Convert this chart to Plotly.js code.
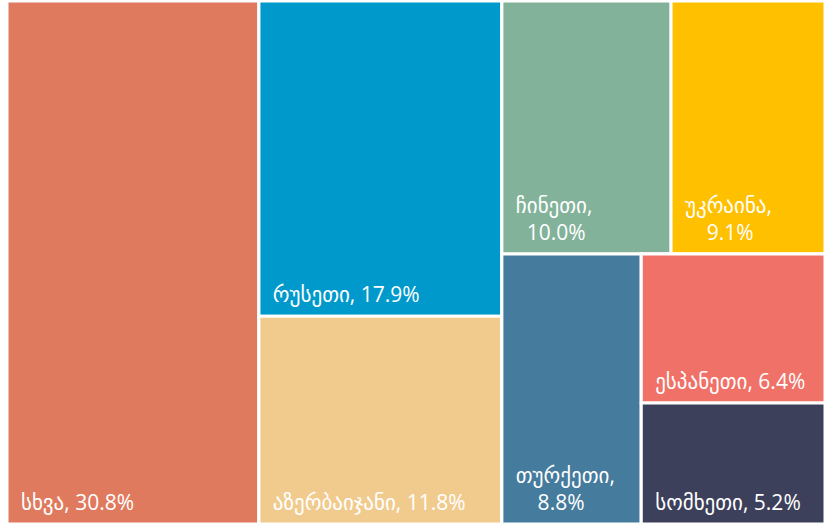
<!DOCTYPE html>
<html>
<head>
<meta charset="utf-8">
<script src="https://cdn.plot.ly/plotly-3.0.1.min.js"></script>
<style>html,body{margin:0;padding:0;background:#fff;}#chart{width:825px;height:526px;}</style>
</head>
<body>
<div id="chart"></div>
<script>
// Leaf data
const labels = ["სხვა", "რუსეთი", "აზერბაიჯანი", "ჩინეთი", "უკრაინა", "თურქეთი", "ესპანეთი", "სომხეთი"];
const values = [30.8, 17.9, 11.8, 10.0, 9.1, 8.8, 6.4, 5.2];
const colors = ["#DF7A5E", "#0099CC", "#F1CB8E", "#82B29A", "#FFC000", "#457B9D", "#F07167", "#3D405B"];
// Grouping used only to reproduce the reference's tile arrangement
const groupOf = ["", "g1", "g1", "g2a", "g2a", "g2b", "g2b2", "g2b2"];
const groupIds = ["g1", "g2", "g2a", "g2b", "g2b2"];
const groupParents = ["", "", "g2", "g2", "g2b"];
// labels whose value goes on a second, indented line
const wrapIndent = {"ჩინეთი": 4, "უკრაინა": 6, "თურქეთი": 6};

const NB = "\u00a0";
const texts = labels.map((l, i) => {
  const v = values[i].toFixed(1) + "%";
  return (l in wrapIndent) ? (NB + NB + l + ",<br>" + NB.repeat(wrapIndent[l]) + v) : (NB + NB + l + ", " + v);
});

// Order: root children in reference order (სხვა, g1, g2)
const ids = ["l0", "g1", "l1", "l2", "g2", "g2a", "l3", "l4", "g2b", "l5", "g2b2", "l6", "l7"];
const idx = {};
labels.forEach((l, i) => idx["l" + i] = i);
const isLeaf = id => id.startsWith("l");
const parentOf = id => isLeaf(id) ? groupOf[idx[id]] : groupParents[groupIds.indexOf(id)];

const trace = {
  type: "treemap",
  ids: ids,
  labels: ids.map(id => isLeaf(id) ? labels[idx[id]] : " "),
  parents: ids.map(parentOf),
  values: ids.map(id => isLeaf(id) ? values[idx[id]] : 0),
  text: ids.map(id => isLeaf(id) ? texts[idx[id]] : ""),
  textinfo: "text",
  textposition: "bottom left",
  textfont: {family: "Open Sans, DejaVu Sans, sans-serif", size: 21, color: "#ffffff"},
  sort: false,
  marker: {
    colors: ids.map(id => isLeaf(id) ? colors[idx[id]] : "#ffffff"),
    line: {color: "#ffffff", width: 3},
    pad: {t: 0, l: 0, r: 0, b: 0}
  },
  tiling: {packing: "slice-dice", pad: 0},
  pathbar: {visible: false},
  branchvalues: "remainder",
  hoverinfo: "none"
};

Plotly.newPlot("chart", [trace], {
  width: 825, height: 526,
  margin: {l: 7, r: 0, t: 1, b: 2},
  paper_bgcolor: "#ffffff",
  showlegend: false
}, {displayModeBar: false, staticPlot: true}).then(gd => {
  // lift the labels a little off the tile bottoms, as in the reference
  gd.querySelectorAll(".treemaplayer g.slice text").forEach(t => {
    const tr = t.getAttribute("transform") || "";
    t.setAttribute("transform", "translate(0,-5) " + tr);
  });
});
</script>
</body>
</html>
